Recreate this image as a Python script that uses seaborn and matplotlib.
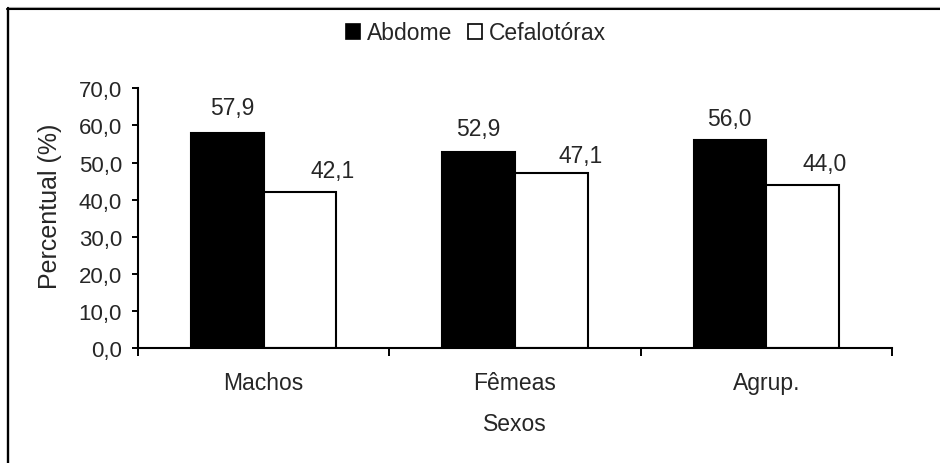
import matplotlib
matplotlib.use("Agg")
import matplotlib.pyplot as plt
from matplotlib.patches import Patch
from matplotlib.lines import Line2D
from matplotlib.ticker import FuncFormatter, FixedLocator
import seaborn as sns
import pandas as pd

# Data
categories = ["Machos", "Fêmeas", "Agrup."]
series_names = ["Abdome", "Cefalotórax"]
abdome = [57.9, 52.9, 56.0]
cefalotorax = [42.1, 47.1, 44.0]
y_ticks = [0, 10, 20, 30, 40, 50, 60, 70]

# Label offsets in pixels (dx, dy) per series and category
label_shift = [
    [(5, 19), (0, 17), (-1, 15)],
    [(33, 15), (29, 11), (22, 15)],
]

sns.set_style("ticks")
plt.rcParams["font.family"] = ["Liberation Sans", "DejaVu Sans"]

df = pd.DataFrame({
    "Sexos": categories * 2,
    "Percentual": abdome + cefalotorax,
    "Parte": [series_names[0]] * 3 + [series_names[1]] * 3,
})

W, H = 940, 464
fig = plt.figure(figsize=(W / 100, H / 100), dpi=100)
ax = fig.add_axes([138 / W, 1 - 349.3 / H, (892 - 138) / W, (349.3 - 89.3) / H])

sns.barplot(
    data=df, x="Sexos", y="Percentual", hue="Parte",
    hue_order=series_names, order=categories,
    palette=["black", "white"], edgecolor="black", linewidth=1.5,
    width=0.577, saturation=1, legend=False, ax=ax,
)

ax.set_ylim(0, 70)
ax.set_xlim(-0.5, 2.5)
ax.yaxis.set_major_locator(FixedLocator(y_ticks))
ax.yaxis.set_major_formatter(FuncFormatter(lambda v, p: f"{v:.1f}".replace(".", ",")))

# Category labels centred, tick marks between categories
ax.set_xticks(range(len(categories)))
ax.set_xticklabels(categories, fontsize=16.5)
ax.set_xticks([-0.5, 0.5, 1.5, 2.5], minor=True)
ax.tick_params(axis="x", which="major", length=0, pad=16)
ax.tick_params(axis="x", which="minor", length=5.5, width=1.4, direction="out", color="black")
ax.tick_params(axis="y", which="major", length=4.5, width=1.4, direction="out",
               pad=7, labelsize=16, color="black")

for side in ("top", "right"):
    ax.spines[side].set_visible(False)
for side in ("left", "bottom"):
    ax.spines[side].set_linewidth(1.5)
    ax.spines[side].set_color("black")

ax.set_xlabel("Sexos", fontsize=16.5, labelpad=13)
ax.set_ylabel("")
fig.text(50 / W, 1 - 206 / H, "Percentual (%)", rotation=90,
         ha="center", va="center", fontsize=18)

# Value labels above each bar
for s, container in enumerate(ax.containers):
    for c, bar in enumerate(container):
        v = bar.get_height()
        dx, dy = label_shift[s][c]
        ax.annotate(f"{v:.1f}".replace(".", ","),
                    (bar.get_x() + bar.get_width() / 2, v),
                    xytext=(dx, dy), textcoords="offset pixels",
                    ha="center", va="baseline", fontsize=16.5)

handles = [Patch(facecolor="black", edgecolor="black", linewidth=1.2),
           Patch(facecolor="white", edgecolor="black", linewidth=1.2)]
fig.legend(handles, series_names, loc="center", bbox_to_anchor=(476 / W, 1 - 34 / H),
           ncol=2, frameon=False, fontsize=16.5, handlelength=0.62, handleheight=0.62,
           handletextpad=0.3, columnspacing=0.7, borderpad=0)

# Chart-area frame lines (top and left)
fig.add_artist(Line2D([7 / W, 1], [1 - 8 / H, 1 - 8 / H], color="#b0b0b0", linewidth=0.8,
                      transform=fig.transFigure))
fig.add_artist(Line2D([7 / W, 1], [1 - 10 / H, 1 - 10 / H], color="black", linewidth=1.5,
                      transform=fig.transFigure))
fig.add_artist(Line2D([7.8 / W, 7.8 / W], [0, 1 - 9 / H], color="black", linewidth=1.7,
                      transform=fig.transFigure))

fig.savefig("out.png", dpi=100, facecolor="white")
